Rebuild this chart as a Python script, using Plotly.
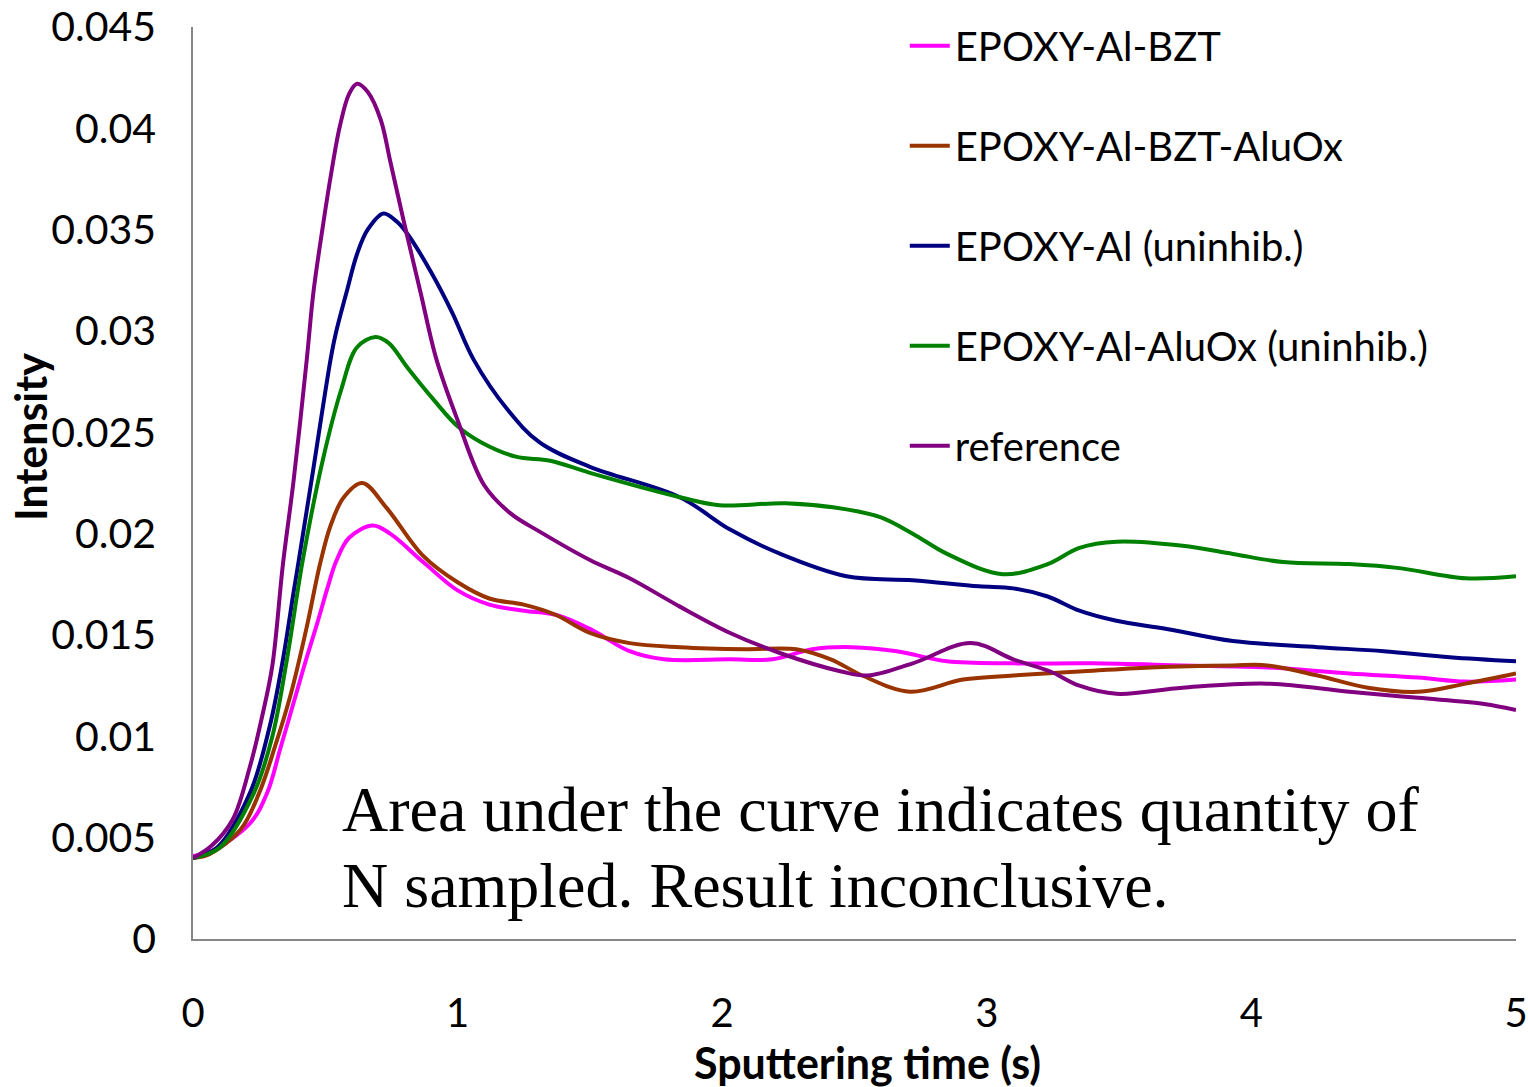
import plotly.graph_objects as go

# ---- data ----
bzt_t = [0, 0.064, 0.215, 0.28, 0.33, 0.39, 0.43, 0.47, 0.51, 0.54, 0.59, 0.68, 0.745, 0.87, 1.0, 1.12, 1.25,
         1.37, 1.5, 1.65, 1.78, 2.03, 2.19, 2.34, 2.49, 2.66, 2.85, 3.1, 3.4, 3.74, 4.06, 4.37, 4.63, 4.81, 5.0]
bzt_v = [0.0041, 0.0043, 0.0057, 0.0072, 0.0094, 0.0121, 0.0139, 0.0156, 0.0174, 0.0186, 0.0198, 0.0204,
         0.0200, 0.0186, 0.0172, 0.0165, 0.0162, 0.0160, 0.0153, 0.0142, 0.0138, 0.0138, 0.0138, 0.0143,
         0.0144, 0.0142, 0.0137, 0.0136, 0.0136, 0.0135, 0.0134, 0.0131, 0.0129, 0.0127, 0.0128]

bzt_ox_t = [0, 0.064, 0.18, 0.25, 0.31, 0.37, 0.43, 0.48, 0.52, 0.57, 0.64, 0.73, 0.87, 1.0, 1.12, 1.25, 1.37,
            1.5, 1.65, 1.84, 2.09, 2.28, 2.41, 2.53, 2.71, 2.91, 3.1, 3.35, 3.62, 3.93, 4.06, 4.25, 4.44,
            4.63, 4.81, 5.0]
bzt_ox_v = [0.0040, 0.0042, 0.0054, 0.0072, 0.0095, 0.0121, 0.0154, 0.0185, 0.0204, 0.0218, 0.0225, 0.0213,
            0.0189, 0.0176, 0.0168, 0.0165, 0.0160, 0.0151, 0.0146, 0.0144, 0.0143, 0.0143, 0.0138, 0.0130,
            0.0122, 0.0128, 0.0130, 0.0132, 0.0134, 0.0135, 0.0135, 0.0130, 0.0124, 0.0122, 0.0126, 0.0131]

al_t = [0, 0.09, 0.215, 0.29, 0.34, 0.38, 0.40, 0.45, 0.52, 0.54, 0.58, 0.62, 0.66, 0.72, 0.77, 0.81, 0.90,
        0.98, 1.06, 1.19, 1.31, 1.5, 1.84, 2.03, 2.22, 2.47, 2.72, 2.97, 3.1, 3.23, 3.35, 3.49, 3.68, 3.93,
        4.25, 4.5, 4.75, 5.0]
al_v = [0.0040, 0.0045, 0.0072, 0.0105, 0.0138, 0.0171, 0.0187, 0.0228, 0.0286, 0.0299, 0.0319, 0.0338,
        0.0350, 0.0358, 0.0354, 0.0348, 0.0329, 0.0309, 0.0286, 0.0261, 0.0245, 0.0233, 0.0218, 0.0202,
        0.0190, 0.0179, 0.0177, 0.0174, 0.0173, 0.0169, 0.0162, 0.0157, 0.0153, 0.0147, 0.0144, 0.0142,
        0.0139, 0.0137]

al_ox_t = [0, 0.10, 0.23, 0.30, 0.355, 0.415, 0.49, 0.56, 0.62, 0.69, 0.74, 0.81, 0.91, 1.0, 1.09, 1.22,
           1.35, 1.5, 1.84, 1.99, 2.24, 2.47, 2.6, 2.72, 2.85, 3.06, 3.23, 3.35, 3.49, 3.74, 3.93, 4.12,
           4.37, 4.56, 4.81, 5.0]
al_ox_v = [0.0040, 0.0045, 0.0072, 0.0100, 0.0138, 0.0187, 0.0236, 0.0271, 0.0292, 0.0297, 0.0294, 0.0282,
           0.0266, 0.0253, 0.0245, 0.0238, 0.0236, 0.0230, 0.0218, 0.0214, 0.0215, 0.0212, 0.0208, 0.0200,
           0.0190, 0.0180, 0.0185, 0.0193, 0.0196, 0.0194, 0.0190, 0.0186, 0.0185, 0.0183, 0.0178, 0.0179]

ref_t = [0, 0.07, 0.15, 0.215, 0.265, 0.30, 0.34, 0.38, 0.43, 0.455, 0.49, 0.52, 0.555, 0.59, 0.62, 0.66,
         0.71, 0.745, 0.795, 0.86, 0.92, 1.0, 1.1, 1.2, 1.31, 1.5, 1.65, 1.84, 2.03, 2.22, 2.45, 2.55, 2.72,
         2.94, 3.1, 3.24, 3.35, 3.49, 3.74, 4.06, 4.37, 4.63, 4.88, 5.0]
ref_v = [0.0040, 0.0046, 0.0059, 0.0085, 0.0112, 0.0135, 0.0185, 0.0226, 0.0286, 0.0319, 0.0351, 0.0376,
         0.0401, 0.0417, 0.0422, 0.0418, 0.0404, 0.0384, 0.0355, 0.0319, 0.0286, 0.0256, 0.0224, 0.0210,
         0.0201, 0.0187, 0.0178, 0.0164, 0.0151, 0.0141, 0.0132, 0.0130, 0.0136, 0.0146, 0.0138, 0.0132,
         0.0125, 0.0121, 0.0124, 0.0126, 0.0122, 0.0119, 0.0116, 0.0113]

names = ["EPOXY-Al-BZT", "EPOXY-Al-BZT-AluOx", "EPOXY-Al (uninhib.)",
         "EPOXY-Al-AluOx (uninhib.)", "reference"]
colors = ["#FF00FF", "#993300", "#000080", "#008000", "#800080"]
series = [(bzt_t, bzt_v), (bzt_ox_t, bzt_ox_v), (al_t, al_v), (al_ox_t, al_ox_v), (ref_t, ref_v)]

y_ticks = [0, 0.005, 0.01, 0.015, 0.02, 0.025, 0.03, 0.035, 0.04, 0.045]
y_tick_text = ["0", "0.005", "0.01", "0.015", "0.02", "0.025", "0.03", "0.035", "0.04", "0.045"]
x_ticks = [0, 1, 2, 3, 4, 5]
x_title = "Sputtering time (s)"
y_title = "Intensity"
note_lines = ["Area under the curve indicates quantity of", "N sampled. Result inconclusive."]

fig = go.Figure()
for i, ((t, v), n, c) in enumerate(zip(series, names, colors)):
    fig.add_trace(go.Scatter(x=t, y=v, name=n, mode="lines", legendgroup=f"g{i}",
                             line=dict(color=c, width=4, shape="spline", smoothing=1.0)))

FONT = "Lato"
W, H = 1528, 1087
L, R, T, B = 193, 12, 27, 148
PW, PH = W - L - R, H - T - B

fig.update_layout(
    width=W, height=H,
    margin=dict(l=L, r=R, t=T, b=B),
    paper_bgcolor="white", plot_bgcolor="white",
    font=dict(family=FONT, color="black"),
    showlegend=True,
    legend=dict(x=0.538, y=1.015, xanchor="left", yanchor="top",
                font=dict(family=FONT, size=40, color="black"),
                bgcolor="rgba(0,0,0,0)", tracegroupgap=45, itemwidth=40),
    xaxis=dict(range=[0, 5], tickvals=x_ticks, showgrid=False, zeroline=False, automargin=False,
               showline=True, linecolor="#868686", linewidth=1.5, ticks="",
               tickfont=dict(family=FONT, size=40), ticklabelstandoff=38),
    yaxis=dict(range=[0, 0.045], tickvals=y_ticks, ticktext=y_tick_text, showgrid=False, automargin=False,
               zeroline=False, showline=True, linecolor="#868686", linewidth=1.5, ticks="",
               tickfont=dict(family=FONT, size=41), ticklabelstandoff=27),
)

# axis titles (placed like the reference)
fig.add_annotation(xref="paper", yref="paper", x=(867 - L) / PW, y=(T + PH - 1062) / PH,
                   xanchor="center", yanchor="middle", showarrow=False, text=f"<b>{x_title}</b>",
                   font=dict(family=FONT, size=43, color="black"))
fig.add_annotation(xref="paper", yref="paper", x=(30 - L) / PW, y=(T + PH - 437) / PH,
                   xanchor="center", yanchor="middle", showarrow=False, text=f"<b>{y_title}</b>",
                   textangle=-90, font=dict(family=FONT, size=43, color="black"))

note_x = (340 - L) / PW
for txt, top_px in zip(note_lines, [772, 848]):
    fig.add_annotation(xref="paper", yref="paper", x=note_x, y=(T + PH - top_px) / PH,
                       xanchor="left", yanchor="top", align="left", showarrow=False, text=txt,
                       font=dict(family="Liberation Serif", size=64, color="black"))

fig.write_html("out.html", config={"displayModeBar": False},
               post_script="document.body.style.margin='0';document.body.style.overflow='hidden';")
